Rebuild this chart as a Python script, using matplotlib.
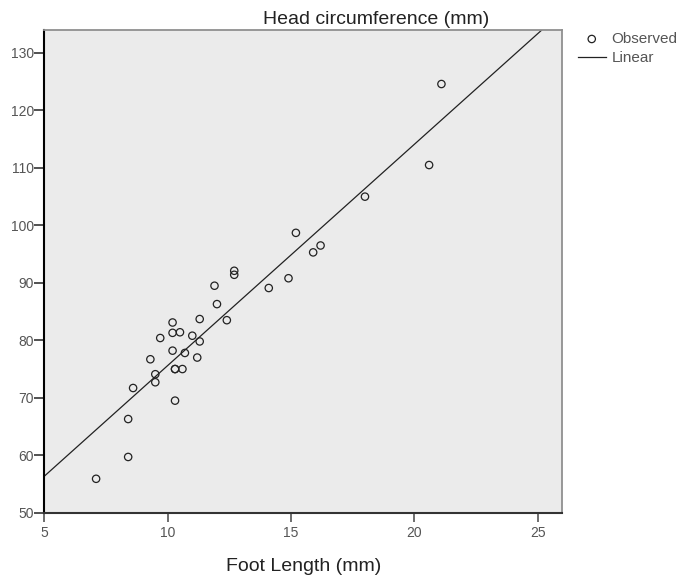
import matplotlib
matplotlib.use("Agg")
import matplotlib.pyplot as plt
import numpy as np

plt.rcParams['font.family'] = ['Liberation Sans', 'DejaVu Sans']

# foot length (mm) and head circumference (mm)
foot_length = [7.1, 8.4, 8.4, 8.6, 9.3, 9.5, 9.5, 9.7, 10.2, 10.2,
               10.2, 10.3, 10.3, 10.3, 10.5, 10.6, 10.7, 11.0, 11.2, 11.3,
               11.3, 11.9, 12.0, 12.4, 12.7, 12.7, 14.1, 14.9, 15.2, 15.9,
               16.2, 18.0, 20.6, 21.1]
head_circ = [55.9, 59.7, 66.3, 71.7, 76.7, 74.1, 72.7, 80.4, 81.3, 78.2,
             83.1, 75.0, 69.5, 75.0, 81.4, 75.0, 77.8, 80.8, 77.0, 83.7,
             79.8, 89.5, 86.3, 83.5, 92.1, 91.4, 89.1, 90.8, 98.7, 95.3,
             96.5, 105.0, 110.5, 124.6]

# linear fit shown on the chart
fit_intercept = 37.1
fit_slope = 3.85

x_ticks = [5, 10, 15, 20, 25]
y_ticks = [50, 60, 70, 80, 90, 100, 110, 120, 130]

fig = plt.figure(figsize=(6.77, 5.79), dpi=100)
ax = fig.add_axes([44.3 / 677, 1 - 512.7 / 579, (562.3 - 44.3) / 677, (512.7 - 30) / 579])
ax.set_facecolor('#ebebeb')

ax.scatter(foot_length, head_circ, s=28, facecolors='none', edgecolors='#222222',
           linewidths=0.9, label='Observed', zorder=3)
xs = np.array([5, 26])
ax.plot(xs, fit_intercept + fit_slope * xs, color='#222222', lw=0.9, label='Linear', zorder=2)

ax.set_xlim(5, 26)
ax.set_ylim(50, 134)
ax.set_xticks(x_ticks)
ax.set_yticks(y_ticks)
ax.tick_params(axis='y', length=7, width=1.2, pad=0.5, labelsize=10, labelcolor='#555555', color='#333333')
ax.tick_params(axis='x', length=6.5, width=1.2, pad=3, labelsize=10, labelcolor='#555555', color='#555555')

ax.spines['left'].set_color('black')
ax.spines['left'].set_linewidth(1.5)
ax.spines['bottom'].set_color('#333333')
ax.spines['bottom'].set_linewidth(1.5)
for side in ['top', 'right']:
    ax.spines[side].set_color('#909090')
    ax.spines[side].set_linewidth(1.3)

ax.set_xlabel('Foot Length (mm)', fontsize=14, color='#222222', labelpad=13)
fig.text(376 / 677, 1 - 19 / 579, 'Head circumference (mm)', fontsize=14,
         color='#222222', ha='center', va='center')

leg = ax.legend(loc='upper left', bbox_to_anchor=(578 / 677, 1 - 32 / 579),
                bbox_transform=fig.transFigure, frameon=False, fontsize=11,
                borderpad=0, borderaxespad=0, handlelength=1.8,
                handletextpad=0.4, labelspacing=0.35, labelcolor='#555555')

fig.savefig('out.png', dpi=100)
